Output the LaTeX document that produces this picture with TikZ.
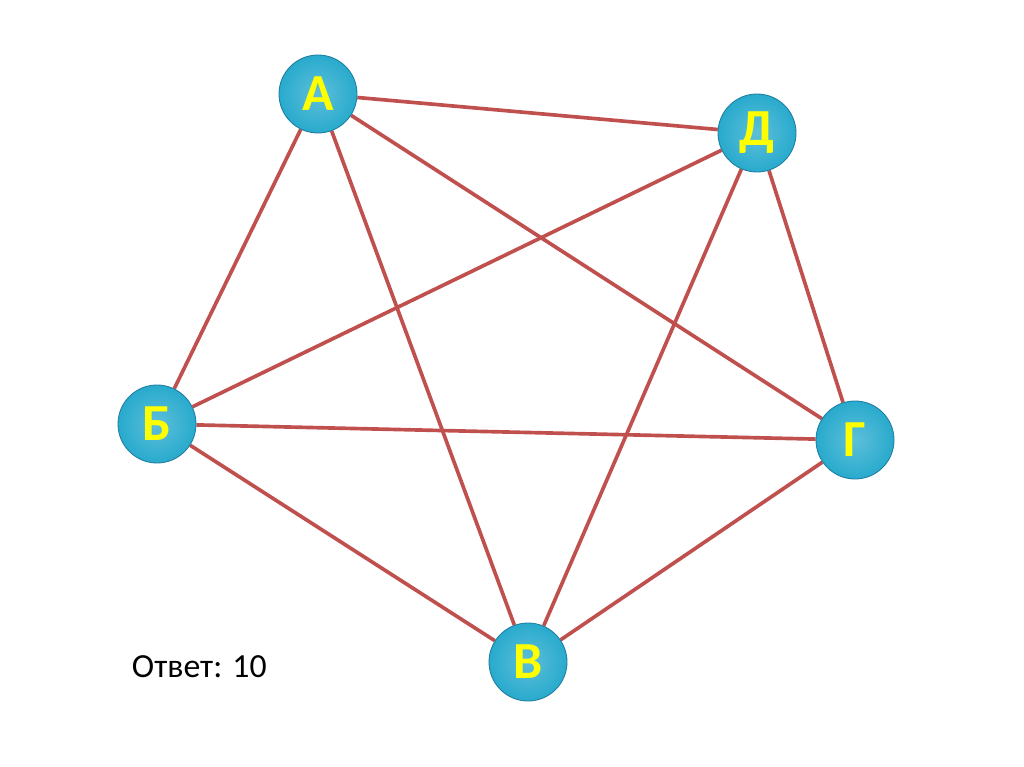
\documentclass[tikz,border=0pt]{standalone}
\usepackage{fontspec}
\setmainfont{Carlito}
\usetikzlibrary{backgrounds}
\definecolor{ribra}{RGB}{192,80,77}
\definecolor{nodeblau}{RGB}{40,170,205}
\definecolor{nodefosc}{RGB}{30,125,160}
\definecolor{lletra}{RGB}{255,255,0}
\tikzset{
	vertex/.style={circle,minimum size=1.95cm,inner sep=0pt,draw=nodefosc,line width=0.6pt,
		inner color=nodeblau!75!white,outer color=nodeblau,
		font=\fontsize{37}{37}\selectfont\bfseries,text=lletra},
	aresta/.style={draw=ribra,line width=2.6pt}
}
\begin{document}
\begin{tikzpicture}[x=0.025cm,y=-0.025cm]
		\useasboundingbox (0,0) rectangle (1024,767);

		% Vertexs del graf
		\node[vertex] (A) at (318,94) {А};
		\node[vertex] (D) at (757,133) {Д};
		\node[vertex] (B) at (157,424) {Б};
		\node[vertex] (G) at (855,440) {Г};
		\node[vertex] (V) at (528,662) {В};

		% Arestes (sota els vertexs)
		\begin{scope}[on background layer]
			\foreach \u/\v in {A/D,A/B,A/V,A/G,D/B,D/V,D/G,B/G,B/V,V/G} {
				\draw[aresta] (\u) -- (\v);
			}
		\end{scope}

		\node[anchor=west,font=\fontsize{24}{24}\selectfont] (resp) at (127,667) {Ответ: 10};
	\end{tikzpicture}
\end{document}
